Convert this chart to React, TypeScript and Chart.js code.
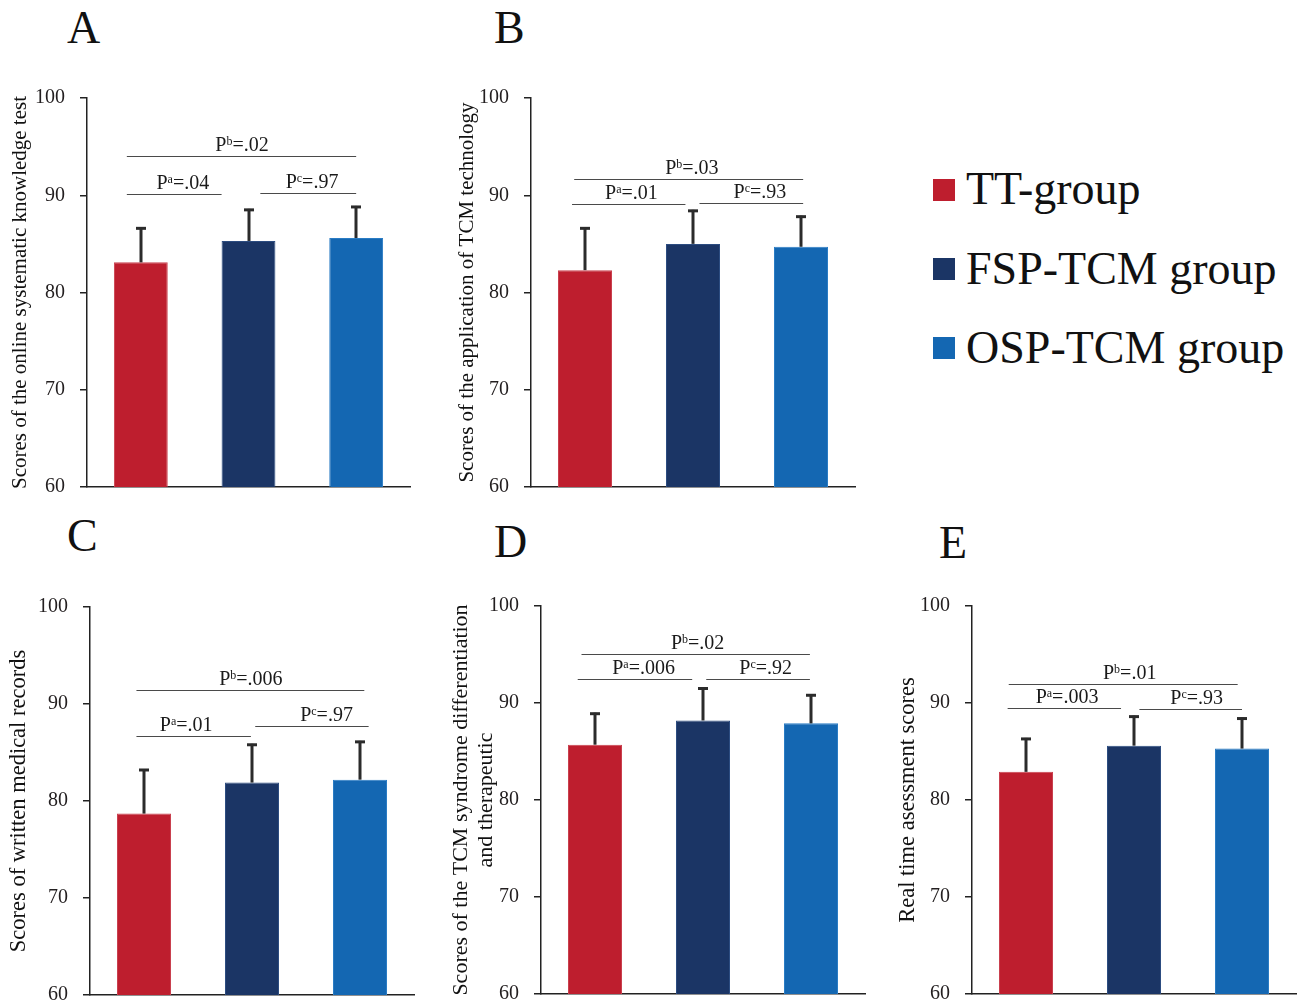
import React, { useEffect, useRef } from "react";
import { Chart, registerables } from "chart.js";

Chart.register(...registerables);

const SERIF = "'Liberation Serif', 'Times New Roman', Times, serif";

// ---------- shared data ----------
const groups = ["TT-group", "FSP-TCM group", "OSP-TCM group"];
const groupColors = ["#BE1E2E", "#1B3565", "#1467B2"];
const groupBorders = ["#C9404E", "#2C4C80", "#2A7CC4"];
const yMin = 60;
const yMax = 100;
const yStep = 10;
const pLetters = ["a", "b", "c"]; // comparison order: a, b, c

// ---------- Panel A ----------
const titleA = "Scores of the online systematic knowledge test";
const meanA = [83.1, 85.3, 85.6];
const sdA = [3.6, 3.3, 3.3];
const pA = [".04", ".02", ".97"];
const bracketYA = [90.1, 94.0, 90.2];
const bracketFromA = [-0.13, -0.13, 1.11];
const bracketToA = [0.75, 2.0, 2.0];
const labelXA = [0.39, 0.94, 1.59];

// ---------- Panel B ----------
const titleB = "Scores of the application of TCM technology";
const meanB = [82.3, 85.0, 84.7];
const sdB = [4.4, 3.5, 3.2];
const pB = [".01", ".03", ".93"];
const bracketYB = [89.1, 91.7, 89.2];
const bracketFromB = [-0.12, -0.1, 1.06];
const bracketToB = [0.93, 2.02, 2.02];
const labelXB = [0.43, 0.99, 1.62];

// ---------- Panel C ----------
const titleC = "Scores of written medical records";
const meanC = [78.7, 81.9, 82.2];
const sdC = [4.6, 4.0, 4.0];
const pC = [".01", ".006", ".97"];
const bracketYC = [86.7, 91.4, 87.7];
const bracketFromC = [-0.07, -0.07, 1.03];
const bracketToC = [0.99, 2.04, 2.08];
const labelXC = [0.39, 0.99, 1.69];

// ---------- Panel D ----------
const titleD = ["Scores of the TCM syndrome differentiation", "and therapeutic"];
const meanD = [85.7, 88.2, 87.9];
const sdD = [3.3, 3.4, 3.0];
const pD = [".006", ".02", ".92"];
const bracketYD = [92.5, 95.1, 92.5];
const bracketFromD = [-0.16, -0.125, 1.03];
const bracketToD = [0.9, 1.99, 1.99];
const labelXD = [0.45, 0.95, 1.58];

// ---------- Panel E ----------
const titleE = "Real time asessment scores";
const meanE = [82.9, 85.6, 85.3];
const sdE = [3.5, 3.1, 3.2];
const pE = [".003", ".01", ".93"];
const bracketYE = [89.5, 92.0, 89.4];
const bracketFromE = [-0.17, -0.16, 1.05];
const bracketToE = [0.88, 1.96, 2.0];
const labelXE = [0.38, 0.96, 1.58];

type PanelProps = {
  canvas: { left: number; top: number; width: number; height: number };
  area: { left: number; top: number; right: number; bottom: number };
  title: string | string[];
  titleSize: number;
  titleLH: number;
  titleCenter: number;
  means: number[];
  sds: number[];
  pvals: string[];
  bY: number[];
  bFrom: number[];
  bTo: number[];
  lX: number[];
};

function Panel(props: PanelProps) {
  const ref = useRef<HTMLCanvasElement>(null);
  useEffect(() => {
    const { canvas, area, title, titleSize, titleLH, titleCenter, means, sds, pvals, bY, bFrom, bTo, lX } = props;
    const yAxisWidth = area.left - canvas.left;
    const xAxisHeight = canvas.top + canvas.height - area.bottom;
    const padTop = area.top - canvas.top;
    const padRight = canvas.left + canvas.width - area.right;
    const titlePad = titleCenter - (titleSize * titleLH) / 2;

    const overlay = {
      id: "overlay",
      afterDatasetsDraw(chart: any) {
        const ctx = chart.ctx as CanvasRenderingContext2D;
        const xs = chart.scales.x;
        const ys = chart.scales.y;
        const meta = chart.getDatasetMeta(0);
        ctx.save();
        // error bars (upper only)
        ctx.strokeStyle = "#2b2b2b";
        ctx.lineWidth = 3;
        ctx.lineCap = "butt";
        meta.data.forEach((bar: any, i: number) => {
          const cx = Math.round(bar.x);
          const yBase = ys.getPixelForValue(means[i]);
          const yTop = ys.getPixelForValue(means[i] + sds[i]);
          ctx.beginPath();
          ctx.moveTo(cx, yBase);
          ctx.lineTo(cx, yTop);
          ctx.stroke();
          ctx.beginPath();
          ctx.moveTo(cx - 5, yTop + 1);
          ctx.lineTo(cx + 5, yTop + 1);
          ctx.stroke();
        });
        // comparison brackets
        ctx.strokeStyle = "#4a4a4a";
        ctx.lineWidth = 1;
        ctx.fillStyle = "#1a1a1a";
        for (let k = 0; k < bY.length; k++) {
          const ly = Math.round(ys.getPixelForValue(bY[k])) + 0.5;
          const x1 = xs.getPixelForValue(bFrom[k]);
          const x2 = xs.getPixelForValue(bTo[k]);
          ctx.beginPath();
          ctx.moveTo(x1, ly);
          ctx.lineTo(x2, ly);
          ctx.stroke();
          const cx = xs.getPixelForValue(lX[k]);
          const rest = "=" + pvals[k];
          ctx.font = `20px ${SERIF}`;
          const wP = ctx.measureText("P").width;
          const wR = ctx.measureText(rest).width;
          ctx.font = `12px ${SERIF}`;
          const wS = ctx.measureText(pLetters[k]).width;
          const total = wP + wS + wR;
          const sx = cx - total / 2;
          const base = ly - 6;
          ctx.textBaseline = "alphabetic";
          ctx.textAlign = "left";
          ctx.font = `20px ${SERIF}`;
          ctx.fillText("P", sx, base);
          ctx.font = `12px ${SERIF}`;
          ctx.fillText(pLetters[k], sx + wP, base - 6);
          ctx.font = `20px ${SERIF}`;
          ctx.fillText(rest, sx + wP + wS, base);
        }
        ctx.restore();
      },
    };

    const chart = new Chart(ref.current as HTMLCanvasElement, {
      type: "bar",
      data: {
        labels: groups,
        datasets: [
          {
            data: means,
            backgroundColor: groupColors,
            borderColor: groupBorders,
            borderWidth: 1,
            barPercentage: 0.5,
            categoryPercentage: 1,
          },
        ],
      },
      options: {
        responsive: false,
        animation: false,
        devicePixelRatio: 1,
        events: [],
        layout: { padding: { top: padTop, right: padRight, left: 0, bottom: 0 } },
        plugins: { legend: { display: false }, tooltip: { enabled: false } },
        scales: {
          x: {
            type: "category",
            ticks: { display: false },
            grid: { display: false },
            border: { display: true, color: "#222", width: 1.5 },
            afterFit: (s: any) => {
              s.height = xAxisHeight;
              s.paddingLeft = 0;
              s.paddingRight = 0;
              s.paddingTop = 0;
              s.paddingBottom = 0;
            },
          },
          y: {
            min: yMin,
            max: yMax,
            ticks: {
              stepSize: yStep,
              padding: 15,
              color: "#231f20",
              font: { family: SERIF, size: 20 },
            },
            grid: {
              drawOnChartArea: false,
              drawTicks: true,
              tickLength: 7,
              color: "#222",
              lineWidth: 1.5,
            },
            border: { display: true, color: "#222", width: 1.5 },
            title: {
              display: true,
              text: title as any,
              color: "#111",
              font: { family: SERIF, size: titleSize, lineHeight: titleLH },
              padding: { top: titlePad, bottom: 0 },
            },
            afterFit: (s: any) => {
              s.width = yAxisWidth;
              s.paddingTop = 0;
              s.paddingBottom = 0;
              s.paddingLeft = 0;
              s.paddingRight = 0;
            },
          },
        },
      },
      plugins: [overlay as any],
    } as any);
    return () => chart.destroy();
  }, []);
  const c = props.canvas;
  return (
    <canvas
      ref={ref}
      width={c.width}
      height={c.height}
      style={{ position: "absolute", left: c.left, top: c.top, width: c.width, height: c.height }}
    />
  );
}

const letterStyle = (left: number, top: number): React.CSSProperties => ({
  position: "absolute",
  left,
  top,
  fontFamily: SERIF,
  fontSize: 46,
  lineHeight: "46px",
  color: "#111",
});

const legendTops = [166, 246, 325];
const legendSquareTops = [179, 258, 337];

export default function App() {
  return (
    <div
      style={{
        position: "absolute",
        left: 0,
        top: 0,
        width: 1297,
        height: 1003,
        background: "#fff",
        overflow: "hidden",
      }}
    >
      <Panel
        canvas={{ left: 0, top: 60, width: 420, height: 440 }}
        area={{ left: 87, top: 98, right: 410, bottom: 487 }}
        title={titleA}
        titleSize={21}
        titleLH={1.2}
        titleCenter={20}
        means={meanA}
        sds={sdA}
        pvals={pA}
        bY={bracketYA}
        bFrom={bracketFromA}
        bTo={bracketToA}
        lX={labelXA}
      />
      <Panel
        canvas={{ left: 440, top: 60, width: 430, height: 440 }}
        area={{ left: 531, top: 98, right: 855, bottom: 487 }}
        title={titleB}
        titleSize={21}
        titleLH={1.2}
        titleCenter={27}
        means={meanB}
        sds={sdB}
        pvals={pB}
        bY={bracketYB}
        bFrom={bracketFromB}
        bTo={bracketToB}
        lX={labelXB}
      />
      <Panel
        canvas={{ left: 0, top: 580, width: 420, height: 423 }}
        area={{ left: 90, top: 607, right: 414, bottom: 995 }}
        title={titleC}
        titleSize={22.5}
        titleLH={1.2}
        titleCenter={19}
        means={meanC}
        sds={sdC}
        pvals={pC}
        bY={bracketYC}
        bFrom={bracketFromC}
        bTo={bracketToC}
        lX={labelXC}
      />
      <Panel
        canvas={{ left: 440, top: 580, width: 430, height: 423 }}
        area={{ left: 541, top: 606, right: 865, bottom: 994 }}
        title={titleD}
        titleSize={22}
        titleLH={1.14}
        titleCenter={21}
        means={meanD}
        sds={sdD}
        pvals={pD}
        bY={bracketYD}
        bFrom={bracketFromD}
        bTo={bracketToD}
        lX={labelXD}
      />
      <Panel
        canvas={{ left: 880, top: 580, width: 417, height: 423 }}
        area={{ left: 972, top: 606, right: 1296, bottom: 994 }}
        title={titleE}
        titleSize={22.5}
        titleLH={1.2}
        titleCenter={28}
        means={meanE}
        sds={sdE}
        pvals={pE}
        bY={bracketYE}
        bFrom={bracketFromE}
        bTo={bracketToE}
        lX={labelXE}
      />

      <div style={letterStyle(67, 4.5)}>A</div>
      <div style={letterStyle(494, 4.5)}>B</div>
      <div style={letterStyle(67, 512.5)}>C</div>
      <div style={letterStyle(494, 518.5)}>D</div>
      <div style={letterStyle(939, 519.5)}>E</div>

      {groups.map((g, i) => (
        <React.Fragment key={g}>
          <div
            style={{
              position: "absolute",
              left: 933,
              top: legendSquareTops[i],
              width: 22,
              height: 22,
              background: groupColors[i],
            }}
          />
          <div
            style={{
              position: "absolute",
              left: 966,
              top: legendTops[i],
              fontFamily: SERIF,
              fontSize: 46,
              lineHeight: "46px",
              color: "#111",
              whiteSpace: "nowrap",
            }}
          >
            {g}
          </div>
        </React.Fragment>
      ))}
    </div>
  );
}
